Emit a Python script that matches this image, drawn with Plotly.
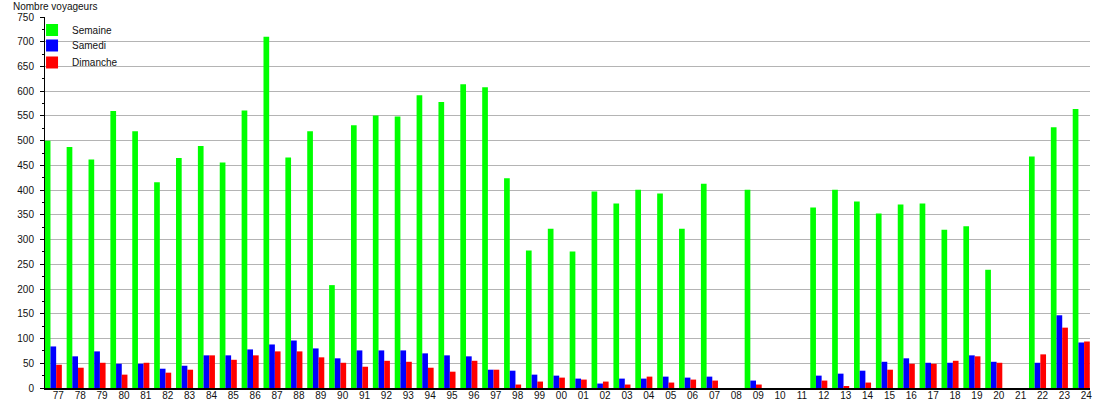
import plotly.graph_objects as go

# ── Data ──────────────────────────────────────────────────────────────────────
YEARS = ["77", "78", "79", "80", "81", "82", "83", "84", "85", "86", "87", "88",
         "89", "90", "91", "92", "93", "94", "95", "96", "97", "98", "99", "00",
         "01", "02", "03", "04", "05", "06", "07", "08", "09", "10", "11", "12",
         "13", "14", "15", "16", "17", "18", "19", "20", "21", "22", "23", "24"]

SEMAINE = [500, 487, 462, 560, 519, 416, 465, 489, 456, 561, 710, 466,
           519, 208, 531, 551, 549, 592, 578, 614, 608, 424, 278, 322,
           276, 397, 373, 401, 393, 322, 413, None, 401, None, None, 365,
           401, 377, 353, 371, 373, 320, 327, 239, None, 468, 527, 564]

SAMEDI = [84, 64, 74, 49, 49, 39, 45, 66, 66, 78, 88, 96,
          80, 60, 76, 76, 76, 70, 66, 64, 37, 35, 27, 25,
          19, 9, 19, 19, 23, 21, 23, None, 15, None, None, 25,
          29, 35, 53, 60, 51, 51, 66, 53, None, 51, 147, 92]

DIMANCHE = [47, 41, 51, 27, 51, 31, 37, 66, 57, 66, 74, 74,
            62, 51, 43, 55, 53, 41, 33, 55, 37, 7, 13, 21,
            17, 13, 7, 23, 11, 17, 15, None, 7, None, None, 15,
            3, 11, 37, 49, 49, 55, 64, 51, None, 68, 122, 94]

# ── Style ─────────────────────────────────────────────────────────────────────
FONT = "Liberation Sans, Arial, sans-serif"
TXT_CLR = "#111111"
GRID_CLR = "#b4b4b4"
BAR_W = 0.26

# name, values, colour, bar offset, legend id, legend y (paper)
series = [
    ("Semaine", SEMAINE, "#00ff00", -0.62, "legend", 0.9649),
    ("Samedi", SAMEDI, "#0000ff", -0.36, "legend2", 0.9232),
    ("Dimanche", DIMANCHE, "#ff0000", -0.10, "legend3", 0.8774),
]

fig = go.Figure()
legends = {}
for name, values, color, off, leg, ly in series:
    fig.add_trace(go.Bar(
        x=YEARS, y=values, name=name,
        marker=dict(color=color, line=dict(width=0)),
        width=BAR_W, offset=off, legend=leg,
    ))
    # one legend per entry so the rows can sit closer than plotly's default
    legends[leg] = dict(x=-0.0124, y=ly, xanchor="left", yanchor="middle",
                        bgcolor="rgba(0,0,0,0)", font=dict(size=10))

fig.update_layout(
    width=1110, height=400,
    margin=dict(l=45, r=20, t=17, b=12),
    paper_bgcolor="white", plot_bgcolor="white",
    font=dict(family=FONT, size=10, color=TXT_CLR),
    barmode="overlay",
    showlegend=True,
    annotations=[dict(
        text="Nombre voyageurs", xref="paper", yref="paper",
        x=0, y=1, xanchor="left", yanchor="bottom", xshift=-34, yshift=3,
        showarrow=False, font=dict(size=10, color=TXT_CLR),
    )],
    **legends,
)
fig.update_xaxes(
    type="category", categoryorder="array", categoryarray=YEARS,
    range=[-0.61, 47.17], showgrid=False, ticks="",
    showline=True, linecolor="black", linewidth=2,
    tickfont=dict(size=10), ticklabelstandoff=-3, automargin=False,
)
fig.update_yaxes(
    range=[0, 750], dtick=50, tick0=0,
    showgrid=True, gridcolor=GRID_CLR, gridwidth=1, zeroline=False,
    showline=True, linecolor="black", linewidth=1,
    ticks="outside", ticklen=4, tickcolor="black", ticklabelstandoff=4,
    minor=dict(ticks="outside", ticklen=2, dtick=25, tickcolor="black", showgrid=False),
    tickfont=dict(size=10), automargin=False,
)

fig.write_html("out.html", config={"displayModeBar": False})

# drop the browser's default 8px body margin so the figure fills the window
with open("out.html", encoding="utf-8") as fh:
    page = fh.read()
page = page.replace("<body>", '<body style="margin:0">', 1)
with open("out.html", "w", encoding="utf-8") as fh:
    fh.write(page)
